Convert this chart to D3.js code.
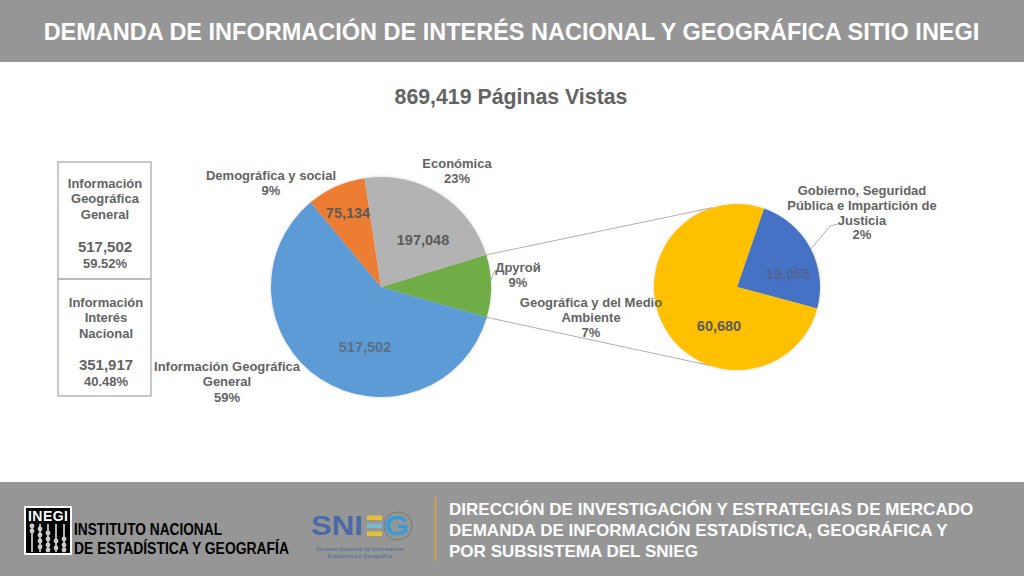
<!DOCTYPE html>
<html lang="es">
<head>
<meta charset="utf-8">
<script src="https://d3js.org/d3.v7.min.js"></script>
<style>
  html, body { margin: 0; background: #fff; }
  svg { display: block; }
  text { font-family: "Liberation Sans", Arial, sans-serif; font-weight: bold; }
</style>
</head>
<body>
<svg id="chart" width="1024" height="576"></svg>
<script>
var titleText = "DEMANDA DE INFORMACIÓN DE INTERÉS NACIONAL Y GEOGRÁFICA SITIO INEGI";
var subtitleText = "869,419 Páginas Vistas";
var footerLines = [
  "DIRECCIÓN DE INVESTIGACIÓN Y ESTRATEGIAS DE MERCADO",
  "DEMANDA DE INFORMACIÓN ESTADÍSTICA, GEOGRÁFICA Y",
  "POR SUBSISTEMA DEL SNIEG"
];

// main pie, clockwise from the green slice
var mainNames = ["Другой", "Información Geográfica General", "Demográfica y social", "Económica"];
var mainValues = [79735, 517502, 75134, 197048];
var mainColors = ["#70ad47", "#5b9bd5", "#ed7d31", "#b3b3b3"];
var mainShown = ["", "517,502", "75,134", "197,048"];

// second pie
var subNames = ["Gobierno, Seguridad Pública e Impartición de Justicia", "Geográfica y del Medio Ambiente"];
var subValues = [19055, 60680];
var subColors = ["#4472c4", "#ffc000"];
var subShown = ["19,055", "60,680"];

var boxTop = ["Información", "Geográfica", "General"];
var boxTopValue = "517,502";
var boxTopShare = "59.52%";
var boxBottom = ["Información", "Interés", "Nacional"];
var boxBottomValue = "351,917";
var boxBottomShare = "40.48%";

var svg = d3.select("#chart");
var deg = Math.PI / 180;
var textColor = "#636363";

var defs = svg.append("defs");
var shadow = defs.append("filter").attr("id", "soft")
  .attr("x", "-10%").attr("y", "-10%").attr("width", "120%").attr("height", "120%");
shadow.append("feDropShadow").attr("dx", 0).attr("dy", 0).attr("stdDeviation", 1.6)
  .attr("flood-color", "#000").attr("flood-opacity", 0.2);

// bands
svg.append("rect").attr("width", 1024).attr("height", 62).attr("fill", "#969696");
svg.append("rect").attr("y", 482).attr("width", 1024).attr("height", 94).attr("fill", "#969696");

svg.append("text").attr("x", 511.5).attr("y", 39.5).attr("text-anchor", "middle")
  .attr("fill", "#fff").attr("font-size", 23.5).text(titleText);
svg.append("text").attr("x", 511).attr("y", 104).attr("text-anchor", "middle")
  .attr("fill", textColor).attr("font-size", 21.3).text(subtitleText);

// pies
var mainCenter = [381, 287], mainR = 110;
var subCenter = [737, 287], subR = 83;

var mainPie = d3.pie().sort(null).value(d => d)
  .startAngle(73 * deg).endAngle(433 * deg);
var subPie = d3.pie().sort(null).value(d => d)
  .startAngle(19 * deg).endAngle(379 * deg);
var mainArcs = mainPie(mainValues);
var subArcs = subPie(subValues);

function edge(center, r, a) {
  return [center[0] + r * Math.sin(a), center[1] - r * Math.cos(a)];
}

// connector lines between the pies
var connectors = [
  [edge(mainCenter, mainR, mainArcs[0].startAngle), edge(subCenter, subR, -17 * deg)],
  [edge(mainCenter, mainR, mainArcs[0].endAngle), edge(subCenter, subR, 199 * deg)]
];
svg.selectAll(".connector").data(connectors).enter().append("line")
  .attr("class", "connector")
  .attr("x1", d => d[0][0]).attr("y1", d => d[0][1])
  .attr("x2", d => d[1][0]).attr("y2", d => d[1][1])
  .attr("stroke", "#b0b0b0").attr("stroke-width", 1);

function drawPie(arcs, center, r, colors) {
  var arc = d3.arc().innerRadius(0).outerRadius(r);
  svg.append("g").attr("transform", "translate(" + center + ")")
    .attr("filter", "url(#soft)")
    .selectAll("path").data(arcs).enter().append("path")
    .attr("d", arc)
    .attr("fill", (d, i) => colors[i]);
}
drawPie(mainArcs, mainCenter, mainR, mainColors);
drawPie(subArcs, subCenter, subR, subColors);

// leader lines
svg.append("path").attr("d", "M811,249L830,226L838,224")
  .attr("fill", "none").attr("stroke", "#b0b0b0");
svg.append("path").attr("d", "M491,280L495,270")
  .attr("fill", "none").attr("stroke", "#b0b0b0");

// multi-line centred label
function label(x, y, lines, size, step, color) {
  var t = svg.append("text").attr("text-anchor", "middle")
    .attr("fill", color || textColor).attr("font-size", size);
  lines.forEach((s, i) => {
    t.append("tspan").attr("x", x).attr("y", y + i * step).text(s);
  });
}

function pct(v, all) { return Math.round(v / d3.sum(all) * 100) + "%"; }

// slice names
label(457, 168, ["Económica", pct(mainValues[3], mainValues)], 13, 15);
label(271, 180, ["Demográfica y social", "9%"], 13, 15);
label(518, 272, [mainNames[0], pct(mainValues[0], mainValues)], 13, 15);
label(227, 371, ["Información Geográfica", "General", "59%"], 13, 15.3);
label(591, 307, ["Geográfica y del Medio", "Ambiente", "7%"], 13, 15);
label(862, 195, ["Gobierno, Seguridad", "Pública e Impartición de", "Justicia", "2%"], 13, 14.8);

// slice values
label(348, 218, [mainShown[2]], 14.5, 0, "#5a5a5a");
label(423, 245, [mainShown[3]], 14.5, 0, "#5a5a5a");
label(365, 352, [mainShown[1]], 14.5, 0, "#5a6f86");
label(788, 279, [subShown[0]], 14.5, 0, "#4f6390");
label(719, 331, [subShown[1]], 14.5, 0, "#5a5a5a");

// summary boxes
svg.append("rect").attr("x", 58).attr("y", 162).attr("width", 93).attr("height", 234)
  .attr("fill", "#fff").attr("stroke", "#a6a6a6").attr("stroke-width", 1.2);
svg.append("line").attr("x1", 58).attr("x2", 151).attr("y1", 279).attr("y2", 279)
  .attr("stroke", "#a6a6a6").attr("stroke-width", 1.6);
label(105, 188, boxTop, 13, 15.3);
label(105, 252, [boxTopValue], 15, 0);
label(105, 268, [boxTopShare], 13, 0);
label(106, 307, boxBottom, 13, 15.3);
label(106, 370, [boxBottomValue], 15, 0);
label(106, 386, [boxBottomShare], 13, 0);

// footer
svg.append("line").attr("x1", 435.5).attr("x2", 435.5).attr("y1", 497).attr("y2", 561)
  .attr("stroke", "#e0a92e").attr("stroke-width", 1.4);
footerLines.forEach((s, i) => {
  svg.append("text").attr("x", 449).attr("y", 514.5 + i * 21)
    .attr("fill", "#fff").attr("font-size", 17.05).text(s);
});

// INEGI logo
var logo = svg.append("g");
logo.append("rect").attr("x", 24).attr("y", 506).attr("width", 48).attr("height", 49).attr("fill", "#fff");
logo.append("rect").attr("x", 26).attr("y", 508).attr("width", 44).attr("height", 45).attr("fill", "#000");
logo.append("text").attr("x", 48).attr("y", 521).attr("text-anchor", "middle")
  .attr("fill", "#fff").attr("font-size", 14).attr("textLength", 40).text("INEGI");
var abacus = [[526, 531], [529, 535, 541, 547], [533, 539, 545, 550], [541, 548], [539, 545, 550]];
abacus.forEach((beads, i) => {
  var x = 32 + i * 8;
  logo.append("line").attr("x1", x).attr("x2", x).attr("y1", 524).attr("y2", 552)
    .attr("stroke", "#fff").attr("stroke-width", 1.4);
  beads.forEach(y => {
    logo.append("circle").attr("cx", x).attr("cy", y).attr("r", 2.4).attr("fill", "#ccc");
  });
});
logo.append("text").attr("transform", "translate(74,535) scale(1,1.22)")
  .attr("fill", "#000").attr("font-size", 13.2)
  .attr("textLength", 148).attr("lengthAdjust", "spacingAndGlyphs").text("INSTITUTO NACIONAL");
logo.append("text").attr("transform", "translate(74,554) scale(1,1.22)")
  .attr("fill", "#000").attr("font-size", 13.2)
  .attr("textLength", 215).attr("lengthAdjust", "spacingAndGlyphs").text("DE ESTADÍSTICA Y GEOGRAFÍA");

// SNIEG logo
var sn = svg.append("g");
sn.append("text").attr("x", 311).attr("y", 535).attr("fill", "#4a69a8").attr("font-size", 28)
  .attr("textLength", 52).attr("lengthAdjust", "spacingAndGlyphs").text("SNI");
["#e8c13a", "#7fb8c9", "#e8c13a"].forEach((c, i) => {
  sn.append("rect").attr("x", 367).attr("y", 515.5 + i * 8).attr("width", 15).attr("height", 4.5).attr("fill", c);
});
sn.append("text").attr("x", 384).attr("y", 535).attr("fill", "#3a9ad9").attr("font-size", 28)
  .attr("textLength", 25).attr("lengthAdjust", "spacingAndGlyphs").text("G");
sn.append("circle").attr("cx", 398).attr("cy", 526).attr("r", 14)
  .attr("fill", "none").attr("stroke", "#5a7a5a").attr("stroke-width", 0.8);
sn.append("text").attr("x", 360).attr("y", 551).attr("text-anchor", "middle")
  .attr("fill", "#5f7394").attr("font-size", 5.6).text("Sistema Nacional de Información");
sn.append("text").attr("x", 360).attr("y", 558).attr("text-anchor", "middle")
  .attr("fill", "#5f7394").attr("font-size", 5.6).text("Estadística y Geográfica");
</script>
</body>
</html>
